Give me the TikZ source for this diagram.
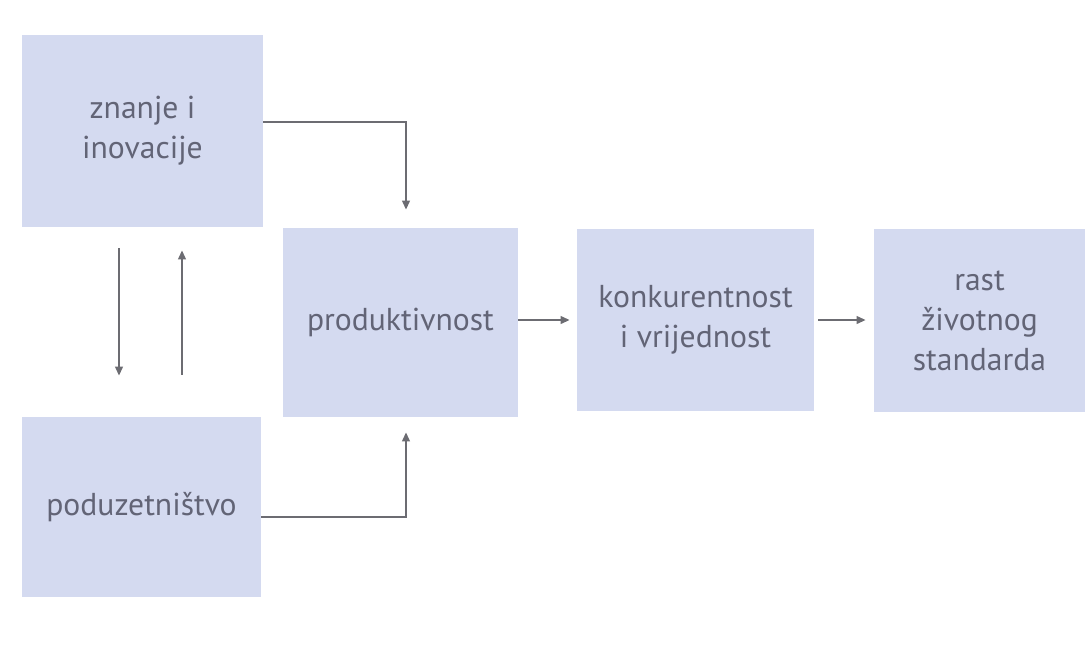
\documentclass[tikz,border=0pt]{standalone}
\usepackage{fontspec}
\setmainfont{PT Sans}
\usepackage{xcolor}
\usetikzlibrary{arrows.meta,calc}
\definecolor{boxBlue}{RGB}{212,218,240}
\definecolor{textGray}{RGB}{98,100,118}
\definecolor{arrowGray}{RGB}{108,108,114}

\begin{document}
\begin{tikzpicture}[x=0.025cm, y=-0.025cm,
    box/.style={fill=boxBlue, text=textGray, align=center, inner sep=0pt,
      font=\fontsize{22.5}{28.5}\selectfont},
    arr/.style={draw=arrowGray, line width=1.4pt, -{Triangle[length=6.5pt,width=5.5pt]}}]
	\useasboundingbox (0,0) rectangle (1085,653);
	\node[box, minimum width=6.025cm, minimum height=4.8cm] (znanje) at (142.5,131) {znanje i\\inovacije};
	\node[box, minimum width=5.975cm, minimum height=4.5cm] (poduz) at (141.5,507) {poduzetništvo};
	\node[box, minimum width=5.875cm, minimum height=4.725cm] (prod) at (400.5,322.5) {produktivnost};
	\node[box, minimum width=5.925cm, minimum height=4.55cm] (konk) at (695.5,320) {konkurentnost\\i vrijednost};
	\node[box, minimum width=5.275cm, minimum height=4.575cm] (rast) at (979.5,320.5) {rast\\životnog\\standarda};
	\coordinate (dn) at ($(znanje.south)+(-23.5,0)$);
	\coordinate (up) at ($(znanje.south)+(39.5,0)$);
	\coordinate (inA) at ($(prod.north)+(5.5,0)$);
	\coordinate (inB) at ($(prod.south)+(5.5,0)$);
	\draw[arr, shorten <=0.525cm, shorten >=1.025cm] (dn) -- (dn |- poduz.north);
	\draw[arr, shorten <=1.05cm, shorten >=0.575cm] (up |- poduz.north) -- (up);
	\draw[arr, shorten >=0.45cm] ($(znanje.east)+(0,-9)$) -| (inA);
	\draw[arr, shorten >=0.375cm] ($(poduz.east)+(0,10)$) -| (inB);
	\draw[arr, shorten >=0.175cm] (prod.east |- konk.west) -- (konk.west);
	\draw[arr, shorten <=0.1cm, shorten >=0.2cm] (konk.east) -- (konk.east -| rast.west);
\end{tikzpicture}
\end{document}
